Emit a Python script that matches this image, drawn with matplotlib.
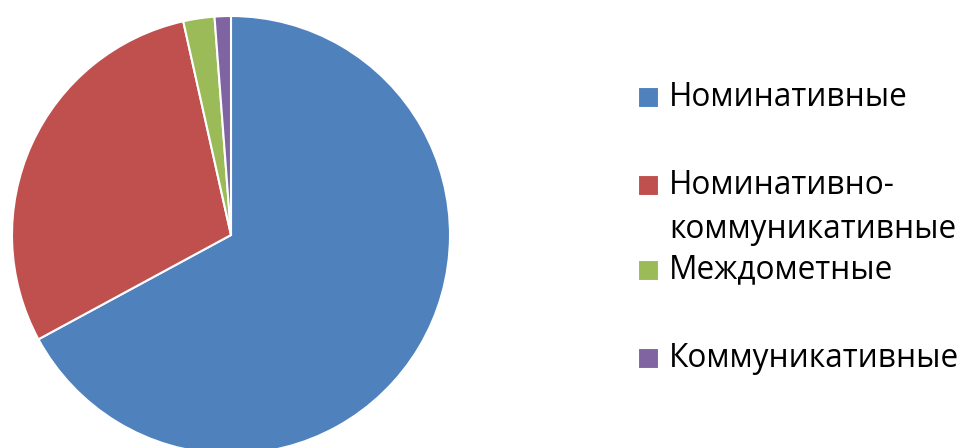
import matplotlib
matplotlib.use("Agg")
import matplotlib.pyplot as plt
from matplotlib.patches import Rectangle

# shares of each category, percent
labels = ["Номинативные", "Номинативно-\nкоммуникативные", "Междометные", "Коммуникативные"]
values = [67.1, 29.4, 2.3, 1.2]
colors = ["#4F81BD", "#C0504D", "#9BBB59", "#8064A2"]

plt.rcParams['font.family'] = ['Open Sans', 'DejaVu Sans']

W, H = 964, 448
fig = plt.figure(figsize=(W / 100, H / 100), dpi=100)

# pie axes placed in pixel terms (slightly cut at the bottom like the original)
ax = fig.add_axes([12 / W, -6 / H, 438 / W, 438 / H])
ax.pie(values, colors=colors, startangle=90, counterclock=False,
       wedgeprops=dict(edgecolor="white", linewidth=1.5))
ax.set_xlim(-1, 1)
ax.set_ylim(-1, 1)
ax.set_aspect("equal")
ax.axis("off")

# hand placed legend, rows are not evenly spaced in the original
row_y = [97, 185, 270, 358]
line_gap = 45
for lab, col, y in zip(labels, colors, row_y):
    fig.patches.append(Rectangle((638 / W, 1 - (y + 10) / H), 20 / W, 20 / H,
                                 transform=fig.transFigure, facecolor=col,
                                 edgecolor="white", linewidth=0.8))
    for i, part in enumerate(lab.split("\n")):
        fig.text(669 / W, 1 - (y + i * line_gap) / H, part, fontsize=22.8,
                 va="center", ha="left", color="black")

fig.savefig("out.png", dpi=100)
